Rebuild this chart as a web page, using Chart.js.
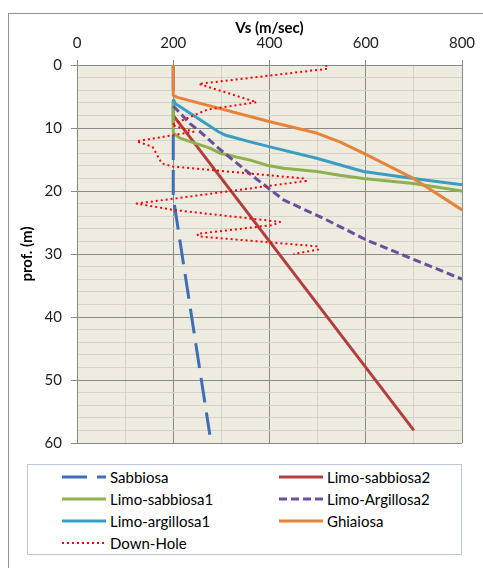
<!DOCTYPE html>
<html>
<head>
<meta charset="utf-8">
<script src="https://cdn.jsdelivr.net/npm/chart.js@4.4.0/dist/chart.umd.min.js"></script>
<style>
html,body{margin:0;padding:0;background:#fff;overflow:hidden}
#wrap{position:relative;width:483px;height:568px}
#frame{position:absolute;left:8px;top:13px;width:500px;height:600px;border:1px solid #8f8f8f;box-sizing:border-box}
#chartBox{position:absolute;left:0;top:0;width:483px;height:568px}
#legend{position:absolute;left:27px;top:464px;width:435px;height:91px;border:1px solid #b9c8de;box-sizing:border-box;font-family:Lato, "Open Sans", sans-serif;font-size:15px;color:#000;background:#fff}
.item{position:absolute;height:20px;display:flex;align-items:center;white-space:nowrap}
.item svg{display:block;margin-right:4px}
</style>
</head>
<body>
<div id="wrap">
  <div id="frame"></div>
  <div id="chartBox"><canvas id="c"></canvas></div>
  <div id="legend"></div>
</div>
<script>
// ---- data (Vs in m/sec, depth in m) ----
const seriesNames = ['Sabbiosa','Limo-sabbiosa2','Limo-sabbiosa1','Limo-Argillosa2','Limo-argillosa1','Ghiaiosa','Down-Hole'];

const sabbiosaV = [200, 200, 276];
const sabbiosaD = [0, 21, 58.7];

const limoSabbiosa2V = [200, 700];
const limoSabbiosa2D = [8, 58];

const limoSabbiosa1V = [200, 200, 214, 276, 297, 360, 394, 429, 498, 546, 595, 699, 800];
const limoSabbiosa1D = [6, 10.8, 11.6, 13.2, 14.0, 15.1, 15.9, 16.4, 16.9, 17.5, 18.0, 18.8, 20.0];

const limoArgillosa2V = [200, 235, 256, 294, 363, 429, 519, 602, 800];
const limoArgillosa2D = [6.5, 9.3, 10.6, 13.2, 17.5, 21.4, 24.6, 27.8, 34];

const limoArgillosa1V = [200, 204, 294, 307, 360, 401, 498, 595, 699, 800];
const limoArgillosa1D = [5.4, 6.1, 10.6, 11.1, 12.2, 13.0, 14.8, 16.9, 18.0, 19.0];

const ghiaiosaV = [200, 200, 207, 401, 498, 546, 595, 699, 800];
const ghiaiosaD = [0, 4.8, 5.1, 9.0, 10.8, 12.2, 14.0, 18.0, 23.0];

const downHoleV = [517, 521, 253, 373, 270, 197, 242, 124, 157, 176, 197, 470, 476, 124, 200, 422, 408, 250, 252, 501, 501, 450];
const downHoleD = [0, 0.6, 3.0, 5.9, 7.1, 9.5, 10.6, 12.1, 13.0, 15.6, 16.1, 18.0, 18.4, 22.0, 23.0, 24.9, 25.4, 26.8, 27.2, 28.8, 29.3, 30.0];

const xTickLabels = [0, 200, 400, 600, 800];
const yTickLabels = [0, 10, 20, 30, 40, 50, 60];

// ---- build ----
function pts(v, d){ return v.map((x, i) => ({x: x, y: d[i]})); }

const styles = [
  {color:'#3d6fb6', width:3, dash:[25,10]},
  {color:'#b23f3c', width:3, dash:[]},
  {color:'#8db24d', width:3, dash:[]},
  {color:'#6a509c', width:3, dash:[8,4]},
  {color:'#3a9ec0', width:3, dash:[]},
  {color:'#e7843a', width:3, dash:[]},
  {color:'#ff0000', width:2, dash:[2,3]}
];
const seriesData = [
  pts(sabbiosaV, sabbiosaD),
  pts(limoSabbiosa2V, limoSabbiosa2D),
  pts(limoSabbiosa1V, limoSabbiosa1D),
  pts(limoArgillosa2V, limoArgillosa2D),
  pts(limoArgillosa1V, limoArgillosa1D),
  pts(ghiaiosaV, ghiaiosaD),
  pts(downHoleV, downHoleD)
];

const datasets = seriesNames.map((name, i) => ({
  label: name,
  data: seriesData[i],
  borderColor: styles[i].color,
  backgroundColor: styles[i].color,
  borderWidth: styles[i].width,
  borderDash: styles[i].dash,
  showLine: true,
  fill: false,
  tension: 0,
  pointRadius: 0,
  pointHoverRadius: 0,
  borderCapStyle: 'butt',
  borderJoinStyle: 'round',
  order: seriesNames.length - 1 - i
}));

const MAJOR = '#8a8a8a', MINOR = '#d4d3cc';

const bgPlugin = {
  id: 'plotBg',
  beforeDraw(chart){
    const a = chart.chartArea; const ctx = chart.ctx;
    ctx.save(); ctx.fillStyle = '#eeece1';
    ctx.fillRect(a.left, a.top, a.right - a.left, a.bottom - a.top);
    ctx.restore();
  }
};

const chart = new Chart(document.getElementById('c'), {
  type: 'scatter',
  data: { datasets: datasets },
  plugins: [bgPlugin],
  options: {
    responsive: true,
    maintainAspectRatio: false,
    animation: false,
    layout: { padding: { left: 0, top: 0, right: 21, bottom: 125 } },
    plugins: { legend: { display: false }, tooltip: { enabled: false } },
    scales: {
      x: {
        type: 'linear', position: 'top', min: 0, max: 800,
        ticks: {
          stepSize: 100, autoSkip: false, maxRotation: 0, padding: 7.5,
          callback: v => xTickLabels.includes(v) ? String(v) : '',
          font: { family: 'Lato', size: 15 }, color: '#222'
        },
        grid: {
          color: c => (c.tick && xTickLabels.includes(c.tick.value)) ? MAJOR : MINOR,
          tickColor: c => (c.tick && xTickLabels.includes(c.tick.value)) ? MAJOR : 'rgba(0,0,0,0)',
          tickLength: 5, lineWidth: 1
        },
        border: { color: MAJOR, width: 1 },
        title: { display: true, text: 'Vs (m/sec)', color: '#000',
          font: { family: 'Lato', size: 15, weight: 'bold' }, padding: { top: 19, bottom: 0 } },
        afterFit: s => { s.height = 65; }
      },
      y: {
        type: 'linear', reverse: true, min: 0, max: 60,
        ticks: {
          stepSize: 2, autoSkip: false, padding: 9,
          callback: v => yTickLabels.includes(v) ? String(v) : '',
          font: { family: 'Lato', size: 15 }, color: '#222'
        },
        grid: {
          color: c => (c.tick && yTickLabels.includes(c.tick.value)) ? MAJOR : MINOR,
          tickColor: c => (c.tick && yTickLabels.includes(c.tick.value)) ? MAJOR : 'rgba(0,0,0,0)',
          tickLength: 6, lineWidth: 1
        },
        border: { color: MAJOR, width: 1 },
        title: { display: true, text: 'prof. (m)', color: '#000',
          font: { family: 'Lato', size: 15, weight: 'bold' }, padding: { top: 17.7, bottom: 0 } },
        afterFit: s => { s.width = 77; }
      }
    }
  }
});

// ---- HTML legend built from the chart's datasets ----
(function buildLegend(){
  const box = document.getElementById('legend');
  const colX = [[34, 82], [251, 300]];
  chart.data.datasets.forEach((ds, i) => {
    const col = i % 2, row = Math.floor(i / 2);
    const it = document.createElement('div');
    it.className = 'item';
    it.style.left = colX[col][0] + 'px';
    it.style.top = (1.7 + row * 22.2) + 'px';
    const ns = 'http://www.w3.org/2000/svg';
    const svg = document.createElementNS(ns, 'svg');
    svg.setAttribute('width', '44'); svg.setAttribute('height', '6');
    const ln = document.createElementNS(ns, 'line');
    ln.setAttribute('x1', '0'); ln.setAttribute('x2', '44');
    ln.setAttribute('y1', '3'); ln.setAttribute('y2', '3');
    ln.setAttribute('stroke', ds.borderColor);
    ln.setAttribute('stroke-width', ds.borderWidth);
    if (ds.borderDash && ds.borderDash.length) ln.setAttribute('stroke-dasharray', ds.borderDash.join(' '));
    svg.appendChild(ln);
    const tx = document.createElement('span');
    tx.textContent = ds.label;
    it.appendChild(svg); it.appendChild(tx);
    box.appendChild(it);
  });
})();
</script>
</body>
</html>
